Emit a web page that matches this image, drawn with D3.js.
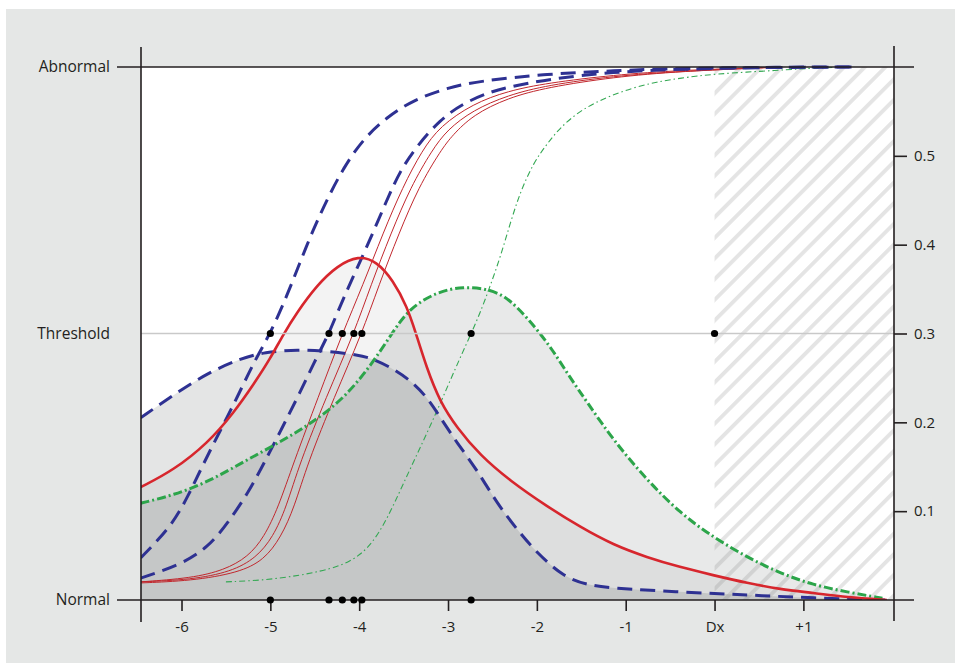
<!DOCTYPE html>
<html>
<head>
<meta charset="utf-8">
<script src="https://cdn.jsdelivr.net/npm/d3@7"></script>
<style>
  body { margin: 0; background: #fff; }
  svg { display: block; }
  text { font-family: "Open Sans", sans-serif; fill: #231f20; }
</style>
</head>
<body>
<div id="chart"></div>
<script>
// x axis: disease time relative to diagnosis (Dx = 0)
const xTicks = [-6, -5, -4, -3, -2, -1, 0, 1];
const xTickLabels = ["-6", "-5", "-4", "-3", "-2", "-1", "Dx", "+1"];
// right axis (density of threshold crossing)
const densityTicks = [0.1, 0.2, 0.3, 0.4, 0.5];
// left axis (biomarker stage)
const stageValues = [0, 0.5, 1];
const stageLabels = ["Normal", "Threshold", "Abnormal"];

// densities [x, density]
const blueDensity = [[-6.46,0.205],[-6.09,0.231],[-5.70,0.256],[-5.33,0.272],[-5.07,0.279],[-4.69,0.282],
  [-4.35,0.280],[-4.01,0.276],[-3.83,0.271],[-3.65,0.262],[-3.43,0.248],[-3.24,0.229],[-3.09,0.206],
  [-2.90,0.177],[-2.67,0.146],[-2.45,0.109],[-2.22,0.079],[-2.00,0.053],[-1.70,0.026],[-1.43,0.017],
  [-1.18,0.0135],[-0.39,0.009],[0.37,0.0056],[1.11,0.0023],[1.92,0.0]];
const redDensity = [[-6.46,0.127],[-6.09,0.146],[-5.70,0.177],[-5.41,0.211],[-5.18,0.244],[-5.00,0.272],
  [-4.86,0.298],[-4.70,0.324],[-4.47,0.355],[-4.25,0.376],[-4.01,0.388],[-3.80,0.381],[-3.62,0.360],
  [-3.46,0.330],[-3.37,0.303],[-3.24,0.261],[-3.09,0.223],[-2.90,0.194],[-2.64,0.163],[-2.30,0.134],
  [-1.88,0.105],[-1.51,0.082],[-1.14,0.062],[-0.76,0.048],[-0.39,0.037],[-0.02,0.028],[0.37,0.019],
  [0.74,0.012],[1.11,0.008],[1.49,0.003],[1.94,0.0]];
const greenDensity = [[-6.46,0.109],[-6.09,0.118],[-5.70,0.133],[-5.33,0.154],[-4.96,0.174],[-4.58,0.196],
  [-4.20,0.224],[-3.88,0.262],[-3.62,0.302],[-3.43,0.329],[-3.12,0.347],[-2.83,0.353],[-2.53,0.350],
  [-2.30,0.339],[-2.00,0.305],[-1.82,0.281],[-1.63,0.251],[-1.43,0.222],[-1.14,0.180],[-0.76,0.135],
  [-0.39,0.098],[-0.02,0.071],[0.37,0.048],[0.74,0.030],[1.11,0.017],[1.49,0.009],[1.89,0.002]];

// biomarker trajectories [x, stage]
const blueCurve1 = [[-6.46,0.079],[-6.12,0.137],[-5.93,0.193],[-5.75,0.257],[-5.56,0.319],[-5.37,0.381],
  [-5.19,0.445],[-5.00,0.500],[-4.81,0.572],[-4.67,0.632],[-4.52,0.694],[-4.36,0.752],[-4.18,0.810],
  [-3.96,0.864],[-3.69,0.906],[-3.39,0.938],[-3.01,0.961],[-2.64,0.974],[-1.88,0.987],[-1.14,0.993],
  [-0.39,0.998],[1.56,1.0]];
const blueCurve2 = [[-6.46,0.041],[-6.01,0.066],[-5.70,0.099],[-5.48,0.144],[-5.25,0.201],[-5.07,0.257],
  [-4.88,0.319],[-4.69,0.381],[-4.51,0.445],[-4.34,0.500],[-4.25,0.538],[-4.07,0.606],[-3.88,0.675],
  [-3.69,0.750],[-3.54,0.805],[-3.35,0.852],[-3.09,0.901],[-2.83,0.932],[-2.53,0.953],[-2.33,0.962],
  [-1.88,0.977],[-1.14,0.991],[-0.39,0.996],[0.74,1.0],[1.56,1.0]];
const redCurveA = [[-6.46,0.034],[-5.89,0.041],[-5.52,0.056],[-5.25,0.081],[-5.07,0.118],[-4.91,0.174],
  [-4.74,0.257],[-4.46,0.381],[-4.19,0.500],[-3.96,0.590],[-3.73,0.689],[-3.51,0.775],[-3.29,0.844],
  [-3.09,0.889],[-2.72,0.931],[-2.33,0.955],[-1.88,0.970],[-1.14,0.985],[-0.39,0.994],[0.74,1.0]];
const redCurveB = [[-6.46,0.034],[-5.89,0.038],[-5.44,0.053],[-5.16,0.079],[-4.97,0.118],[-4.82,0.174],
  [-4.67,0.257],[-4.37,0.381],[-4.06,0.500],[-3.87,0.590],[-3.64,0.689],[-3.42,0.775],[-3.18,0.844],
  [-3.01,0.882],[-2.72,0.919],[-2.33,0.947],[-1.88,0.966],[-1.14,0.983],[-0.39,0.992],[0.74,1.0]];
const redCurveC = [[-6.46,0.032],[-5.89,0.036],[-5.36,0.051],[-5.07,0.075],[-4.88,0.118],[-4.73,0.174],
  [-4.58,0.257],[-4.28,0.381],[-3.97,0.500],[-3.78,0.590],[-3.55,0.689],[-3.33,0.775],[-3.08,0.844],
  [-2.95,0.872],[-2.72,0.910],[-2.33,0.942],[-1.88,0.962],[-1.14,0.981],[-0.39,0.992],[0.74,1.0]];
const greenCurve = [[-5.50,0.034],[-4.96,0.038],[-4.40,0.054],[-4.10,0.071],[-3.88,0.099],[-3.69,0.150],
  [-3.51,0.216],[-3.31,0.287],[-3.12,0.356],[-2.94,0.426],[-2.74,0.500],[-2.64,0.538],[-2.53,0.587],
  [-2.41,0.644],[-2.30,0.707],[-2.19,0.764],[-2.04,0.820],[-1.88,0.857],[-1.74,0.886],[-1.51,0.919],
  [-1.21,0.944],[-0.92,0.961],[-0.65,0.972],[-0.39,0.979],[-0.02,0.987],[0.74,0.994],[1.11,0.998],[1.53,1.0]];

// where each trajectory crosses threshold
const crossX = [-5.00, -4.34, -4.19, -4.06, -3.97, -2.74];
const dxX = 0;

const W = 955, H = 665;
const margin = { left: 141, right: 894, top: 67, bottom: 600 };

const svg = d3.select("#chart").append("svg")
    .attr("width", W)
    .attr("height", H);

// grey panel
svg.append("rect")
    .attr("x", 6).attr("y", 9)
    .attr("width", W - 6).attr("height", 654)
    .attr("fill", "#e5e7e6");

var x = d3.scaleLinear().domain([-6.456, 2.02]).range([margin.left, margin.right]);
var yDen = d3.scaleLinear().domain([0, 0.6]).range([margin.bottom, margin.top]);
var yStage = d3.scaleLinear().domain([0, 1]).range([margin.bottom, margin.top]);

const defs = svg.append("defs");
defs.append("clipPath").attr("id", "clip")
    .append("rect")
    .attr("x", margin.left).attr("y", margin.top - 2)
    .attr("width", margin.right - margin.left).attr("height", margin.bottom - margin.top + 2);

const hatch = defs.append("pattern")
    .attr("id", "hatch")
    .attr("patternUnits", "userSpaceOnUse")
    .attr("width", 14.6).attr("height", 14.6)
    .attr("patternTransform", "rotate(45)");
hatch.append("rect")
    .attr("x", 0).attr("y", 0)
    .attr("width", 3.8).attr("height", 14.6)
    .attr("fill", "#6e6e6e")
    .attr("fill-opacity", 0.19);

// white plot area
svg.append("rect")
    .attr("x", margin.left).attr("y", margin.top)
    .attr("width", margin.right - margin.left).attr("height", margin.bottom - margin.top)
    .attr("fill", "#fff");

const plot = svg.append("g").attr("clip-path", "url(#clip)");

var area = d3.area()
    .curve(d3.curveBasis)
    .x(function (d) { return x(d[0]); })
    .y0(yDen(0))
    .y1(function (d) { return yDen(d[1]); });

var denLine = d3.line()
    .curve(d3.curveBasis)
    .x(function (d) { return x(d[0]); })
    .y(function (d) { return yDen(d[1]); });

var stageLine = d3.line()
    .curve(d3.curveBasis)
    .x(function (d) { return x(d[0]); })
    .y(function (d) { return yStage(d[1]); });

const fills = [
  { data: blueDensity, op: 0.12 },
  { data: redDensity, op: 0.055 },
  { data: greenDensity, op: 0.10 }
];
plot.selectAll(".den-fill")
    .data(fills)
    .enter().append("path")
    .attr("class", "den-fill")
    .attr("d", function (d) { return area(d.data); })
    .attr("fill", "#22262c")
    .attr("fill-opacity", function (d) { return d.op; });

// hatched region after diagnosis
plot.append("rect")
    .attr("x", x(dxX)).attr("y", margin.top)
    .attr("width", margin.right - x(dxX)).attr("height", margin.bottom - margin.top)
    .attr("fill", "url(#hatch)");

// threshold line
svg.append("line")
    .attr("x1", margin.left).attr("x2", margin.right)
    .attr("y1", yStage(0.5)).attr("y2", yStage(0.5))
    .attr("stroke", "#c9c9c9")
    .attr("stroke-width", 1.3);

const curves = [
  { data: greenCurve, fn: stageLine, color: "#34a853", w: 1.1, dash: "6,3,1.5,3" },
  { data: redCurveA, fn: stageLine, color: "#c1272d", w: 1, dash: null },
  { data: redCurveB, fn: stageLine, color: "#c1272d", w: 1, dash: null },
  { data: redCurveC, fn: stageLine, color: "#c1272d", w: 1, dash: null },
  { data: blueCurve2, fn: stageLine, color: "#2e3192", w: 3, dash: "15,8" },
  { data: blueCurve1, fn: stageLine, color: "#2e3192", w: 3, dash: "15,8" },
  { data: blueDensity, fn: denLine, color: "#2e3192", w: 3, dash: "15,8" },
  { data: greenDensity, fn: denLine, color: "#2ca54a", w: 3, dash: "9,3,2,3" },
  { data: redDensity, fn: denLine, color: "#d7262d", w: 2.6, dash: null }
];
plot.selectAll(".curve")
    .data(curves)
    .enter().append("path")
    .attr("class", "curve")
    .attr("d", function (d) { return d.fn(d.data); })
    .attr("fill", "none")
    .attr("stroke", function (d) { return d.color; })
    .attr("stroke-width", function (d) { return d.w; })
    .attr("stroke-dasharray", function (d) { return d.dash; });

// frame lines
svg.append("line")
    .attr("x1", margin.left).attr("x2", margin.left).attr("y1", 47).attr("y2", 622)
    .attr("stroke", "#231f20").attr("stroke-width", 1.6);
svg.append("line")
    .attr("x1", margin.right).attr("x2", margin.right).attr("y1", 46).attr("y2", 621)
    .attr("stroke", "#231f20").attr("stroke-width", 1.6);
[0, 1].forEach(function (s) {
  svg.append("line")
      .attr("x1", 117).attr("x2", 914)
      .attr("y1", yStage(s)).attr("y2", yStage(s))
      .attr("stroke", "#231f20").attr("stroke-width", 1.6);
});

// axes
var xAxis = d3.axisBottom(x)
    .tickValues(xTicks)
    .tickFormat(function (d, i) { return xTickLabels[i]; })
    .tickSize(11).tickSizeOuter(0).tickPadding(10);
var gx = svg.append("g")
    .attr("transform", "translate(0," + margin.bottom + ")")
    .call(xAxis);

var yAxisRight = d3.axisRight(yDen)
    .tickValues(densityTicks)
    .tickFormat(d3.format(".1f"))
    .tickSize(13).tickSizeOuter(0).tickPadding(7);
var gy = svg.append("g")
    .attr("transform", "translate(" + margin.right + ",0)")
    .call(yAxisRight);

var yAxisLeft = d3.axisLeft(yStage)
    .tickValues(stageValues)
    .tickFormat(function (d, i) { return stageLabels[i]; })
    .tickSize(0).tickPadding(31);
var gl = svg.append("g")
    .attr("transform", "translate(" + margin.left + ",0)")
    .call(yAxisLeft);

[gx, gy, gl].forEach(function (g) {
  g.select(".domain").remove();
  g.selectAll(".tick line").attr("stroke", "#231f20").attr("stroke-width", 1.6);
  g.selectAll(".tick text").style("font-family", "'Open Sans', sans-serif").attr("fill", "#231f20");
});
gx.selectAll(".tick text").style("font-size", "15px");
gy.selectAll(".tick text").style("font-size", "15px");
gl.selectAll(".tick text").style("font-size", "15.5px");

// threshold-crossing dots
svg.selectAll(".dot-t")
    .data(crossX.concat([dxX]))
    .enter().append("circle")
    .attr("class", "dot-t")
    .attr("cx", function (d) { return x(d); })
    .attr("cy", yStage(0.5))
    .attr("r", 3.6)
    .attr("fill", "#000");
svg.selectAll(".dot-n")
    .data(crossX)
    .enter().append("circle")
    .attr("class", "dot-n")
    .attr("cx", function (d) { return x(d); })
    .attr("cy", yStage(0))
    .attr("r", 3.6)
    .attr("fill", "#000");
</script>
</body>
</html>
